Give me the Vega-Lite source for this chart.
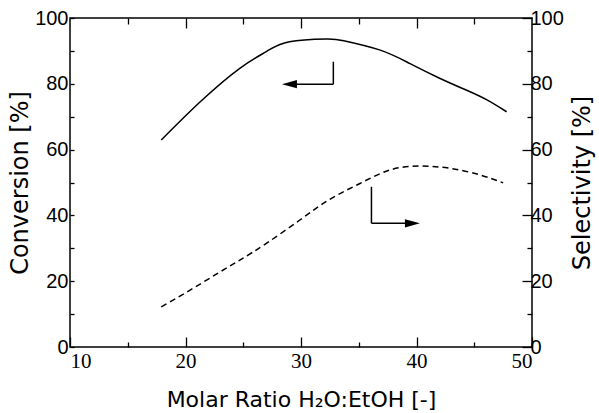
{
  "$schema": "https://vega.github.io/schema/vega-lite/v6.json",
  "width": 462,
  "height": 329,
  "autosize": "none",
  "padding": {"left": 70, "top": 18, "right": 67, "bottom": 66},
  "background": "white",
  "config": {
    "view": {"stroke": "black", "strokeWidth": 1.5},
    "axis": {"domain": false, "grid": false, "tickColor": "black", "tickWidth": 1.3, "labelColor": "black", "titleColor": "black", "titleFontWeight": "normal", "labelFont": "Liberation Sans", "titleFont": "DejaVu Sans"}
  },
  "datasets": {
    "conversion": [
      {"x": 17.9, "y": 62.9},
      {"x": 21.3, "y": 74.6},
      {"x": 24.7, "y": 84.7},
      {"x": 27.0, "y": 89.8},
      {"x": 29.0, "y": 92.8},
      {"x": 32.2, "y": 93.6},
      {"x": 33.7, "y": 93.1},
      {"x": 36.8, "y": 90.3},
      {"x": 39.4, "y": 86.2},
      {"x": 42.0, "y": 81.7},
      {"x": 44.3, "y": 78.1},
      {"x": 46.1, "y": 75.1},
      {"x": 47.8, "y": 71.5}
    ],
    "selectivity": [
      {"x": 17.9, "y": 12.2},
      {"x": 20.4, "y": 17.3},
      {"x": 22.7, "y": 22.2},
      {"x": 24.7, "y": 26.4},
      {"x": 27.0, "y": 31.5},
      {"x": 29.9, "y": 38.6},
      {"x": 32.5, "y": 44.9},
      {"x": 35.1, "y": 49.7},
      {"x": 37.7, "y": 53.8},
      {"x": 40.3, "y": 55.0},
      {"x": 42.9, "y": 54.3},
      {"x": 45.5, "y": 52.3},
      {"x": 47.5, "y": 49.9}
    ],
    "arrowLines": [
      {"x": 32.8, "y": 86.7, "x2": 32.8, "y2": 79.9},
      {"x": 32.8, "y": 79.9, "x2": 29.0, "y2": 79.9},
      {"x": 36.1, "y": 48.7, "x2": 36.1, "y2": 37.6},
      {"x": 36.1, "y": 37.6, "x2": 39.7, "y2": 37.6}
    ],
    "arrowHeads": [
      {"x": 29.0, "y": 79.9, "dir": "left"},
      {"x": 39.65, "y": 37.6, "dir": "right"}
    ]
  },
  "layer": [
    {
      "data": {"name": "conversion"},
      "mark": {"type": "line", "color": "black", "strokeWidth": 1.5, "interpolate": "natural"},
      "encoding": {
        "x": {"field": "x", "type": "quantitative", "scale": {"domain": [10, 50], "nice": false, "zero": false},
          "axis": {"orient": "bottom", "values": [10, 20, 30, 40, 50], "tickSize": -10, "labelFont": "Liberation Serif", "labelFontSize": 21, "labelPadding": 13, "title": "Molar Ratio H₂O:EtOH [-]", "titleFontSize": 22, "titlePadding": 18}},
        "y": {"field": "y", "type": "quantitative", "scale": {"domain": [0, 100], "nice": false},
          "axis": {"orient": "left", "values": [0, 20, 40, 60, 80, 100], "tickSize": -4, "labelFontSize": 20, "labelPadding": 6, "title": "Conversion [%]", "titleFontSize": 24, "titlePadding": 2}}
      }
    },
    {
      "data": {"name": "selectivity"},
      "mark": {"type": "line", "color": "black", "strokeWidth": 1.5, "strokeDash": [6, 4], "interpolate": "natural"},
      "encoding": {
        "x": {"field": "x", "type": "quantitative",
          "axis": {"orient": "top", "values": [20, 30, 40], "tickSize": -10, "labels": false, "title": null}},
        "y": {"field": "y", "type": "quantitative",
          "axis": {"orient": "right", "values": [0, 20, 40, 60, 80, 100], "tickSize": -10, "labelFontSize": 20, "labelPadding": 8, "title": "Selectivity [%]", "titleFontSize": 24, "titleAngle": 270, "titlePadding": 31}}
      }
    },
    {
      "data": {"name": "arrowLines"},
      "mark": {"type": "rule", "color": "black", "strokeWidth": 1.5},
      "encoding": {
        "x": {"field": "x", "type": "quantitative",
          "axis": {"orient": "bottom", "values": [15, 25, 35, 45], "tickSize": -5, "labels": false, "title": null}},
        "x2": {"field": "x2"},
        "y": {"field": "y", "type": "quantitative",
          "axis": {"orient": "left", "values": [10, 30, 50, 70, 90], "tickSize": -4, "labels": false, "title": null}},
        "y2": {"field": "y2"}
      }
    },
    {
      "data": {"name": "arrowHeads"},
      "mark": {"type": "point", "filled": true, "color": "black", "opacity": 1, "size": 225},
      "encoding": {
        "x": {"field": "x", "type": "quantitative",
          "axis": {"orient": "top", "values": [15, 25, 35, 45], "tickSize": -6, "labels": false, "title": null}},
        "y": {"field": "y", "type": "quantitative",
          "axis": {"orient": "right", "values": [10, 30, 50, 70, 90], "tickSize": -5, "labels": false, "title": null}},
        "shape": {"field": "dir", "type": "nominal", "legend": null,
          "scale": {"domain": ["left", "right"], "range": ["M-1,0L1,-0.55L1,0.55Z", "M1,0L-1,-0.55L-1,0.55Z"]}}
      }
    }
  ],
  "resolve": {"axis": {"x": "independent", "y": "independent"}}
}
